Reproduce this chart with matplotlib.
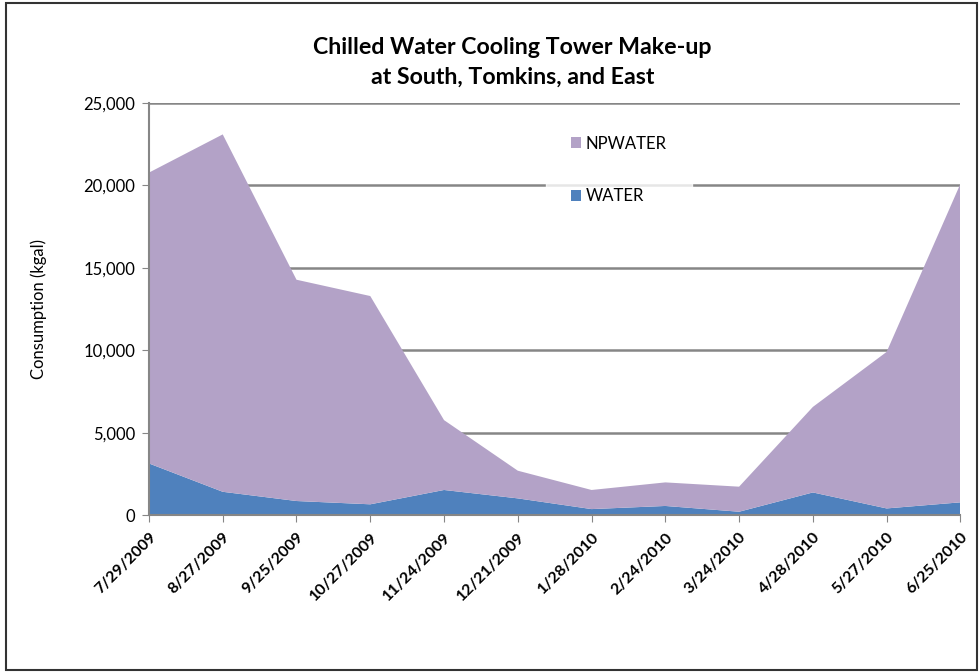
import matplotlib.pyplot as plt
from matplotlib.patches import Rectangle
from matplotlib.ticker import FuncFormatter

# Monthly readings (kgal)
dates = ['7/29/2009', '8/27/2009', '9/25/2009', '10/27/2009', '11/24/2009', '12/21/2009',
         '1/28/2010', '2/24/2010', '3/24/2010', '4/28/2010', '5/27/2010', '6/25/2010']
water = [3130, 1410, 850, 650, 1520, 1010, 360, 550, 200, 1370, 400, 770]
npwater = [17650, 21690, 13430, 12640, 4240, 1680, 1160, 1430, 1520, 5190, 9500, 19330]

plt.rcParams['font.family'] = ['Lato', 'DejaVu Sans']

fig = plt.figure(figsize=(9.8, 6.72), dpi=100)
ax = fig.add_axes([0.152, 0.2336, 0.828, 0.613])

x = list(range(len(dates)))
ax.stackplot(x, water, npwater, colors=['#4F81BD', '#B3A2C7'],
             labels=['WATER', 'NPWATER'], zorder=2)

ax.set_xlim(0, len(dates) - 1)
ax.set_ylim(0, 25000)
ax.set_yticks(range(0, 25001, 5000))
ax.yaxis.set_major_formatter(FuncFormatter(lambda v, p: f'{int(v):,}'))
ax.grid(axis='y', color='#868686', linewidth=1.8, zorder=1)
ax.set_axisbelow(True)

ax.set_xticks(x)
ax.set_xticklabels(dates, rotation=45, ha='right', rotation_mode='anchor',
                   fontsize=11.5, fontweight='bold')
ax.tick_params(axis='y', labelsize=12, direction='out', length=5, color='#868686', pad=5)
ax.tick_params(axis='x', direction='out', length=5, color='#868686', pad=6)

for s in ['top', 'right']:
    ax.spines[s].set_visible(False)
for s in ['left', 'bottom']:
    ax.spines[s].set_color('#868686')
    ax.spines[s].set_linewidth(1.5)

ax.set_ylabel('Consumption (kgal)', fontsize=12)
ax.yaxis.set_label_coords(-0.126, 0.5)

fig.text(0.523, 0.907, 'Chilled Water Cooling Tower Make-up\nat South, Tomkins, and East',
         ha='center', va='center', fontsize=16.7, fontweight='bold', linespacing=1.55)

# legend sits over the plot with a white box that hides part of a gridline
handles, labels = ax.get_legend_handles_labels()
leg = ax.legend(handles[::-1], labels[::-1], loc='upper left',
                bbox_to_anchor=(0.479, 1.002), frameon=True, fontsize=12,
                handlelength=0.6, handleheight=0.6, handletextpad=0.3,
                labelspacing=2.2, borderpad=1.5, fancybox=False)
leg.get_frame().set_facecolor('white')
leg.get_frame().set_edgecolor('white')
leg.set_zorder(5)

fig.patches.append(Rectangle((0.006, 0.003), 0.991, 0.992, transform=fig.transFigure,
                             fill=False, edgecolor='#333333', linewidth=1.5))

fig.savefig('out.png', dpi=100)
